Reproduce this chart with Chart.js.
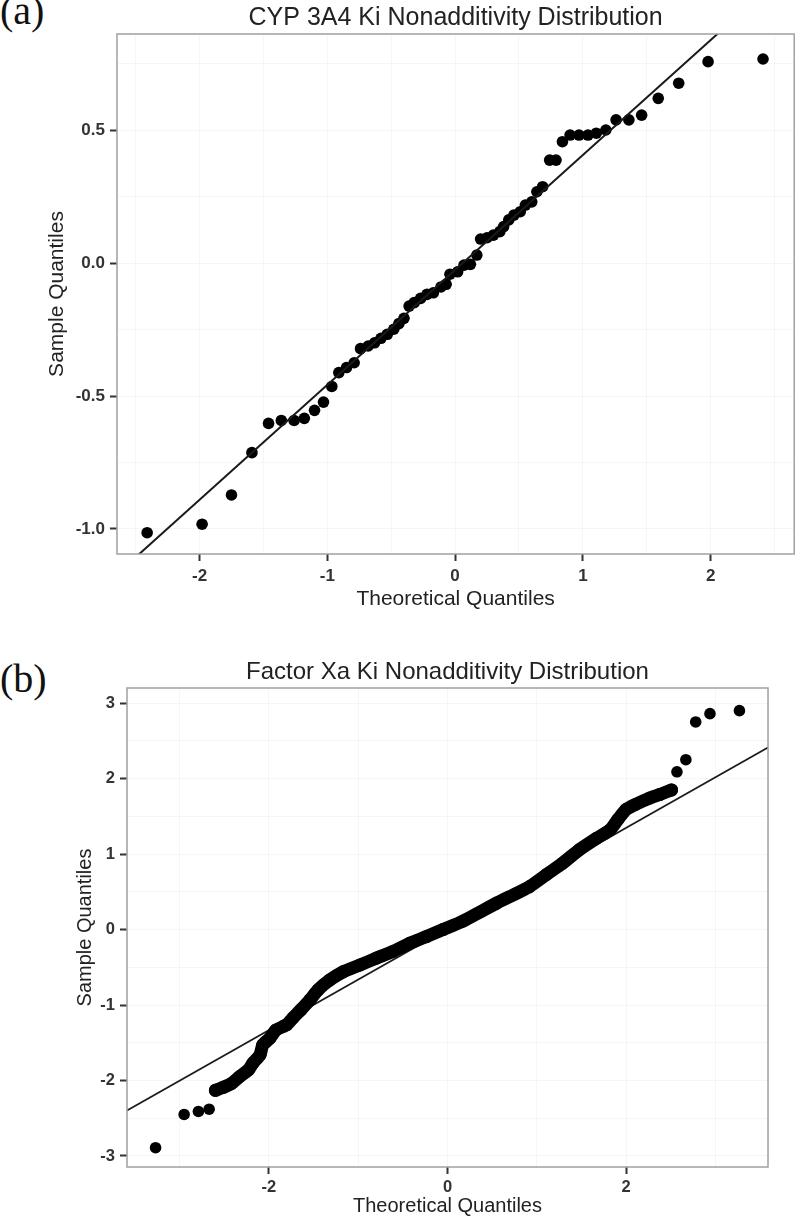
<!DOCTYPE html>
<html><head><meta charset="utf-8">
<script src="https://cdn.jsdelivr.net/npm/chart.js@4.4.1/dist/chart.umd.min.js"></script>
<style>
html,body{margin:0;padding:0;background:#fff;width:800px;height:1218px;overflow:hidden}
.panel{position:absolute;left:0;width:800px}
#p1{top:0;height:615px}
#p2{top:615px;height:603px}
.lab{position:absolute;left:0px;font-family:"Liberation Serif","DejaVu Serif",serif;font-size:40px;color:#111;line-height:1}
</style></head><body>
<div class="lab" style="top:-9px">(a)</div>
<div class="lab" style="top:659px">(b)</div>
<div class="panel" id="p1"><canvas id="c1"></canvas></div>
<div class="panel" id="p2"><canvas id="c2"></canvas></div>
<script>
// ---- Panel (a): CYP 3A4 ----
const cypTheoretical = [-2.41,-1.98,-1.75,-1.59,-1.46,-1.36,-1.26,-1.18,-1.10,-1.03,-0.965,-0.91,-0.85,-0.79,-0.74,-0.68,-0.63,-0.58,-0.53,-0.48,-0.44,-0.40,-0.36,-0.32,-0.27,-0.22,-0.17,-0.11,-0.07,-0.04,0.02,0.07,0.12,0.17,0.20,0.25,0.30,0.35,0.38,0.42,0.46,0.51,0.55,0.60,0.64,0.685,0.74,0.79,0.84,0.90,0.97,1.04,1.105,1.18,1.26,1.36,1.46,1.59,1.75,1.98,2.41];
const cypSample = [-1.014,-0.982,-0.872,-0.713,-0.603,-0.592,-0.592,-0.584,-0.554,-0.523,-0.464,-0.412,-0.393,-0.375,-0.322,-0.312,-0.30,-0.283,-0.268,-0.249,-0.228,-0.208,-0.162,-0.149,-0.133,-0.118,-0.112,-0.09,-0.08,-0.042,-0.033,-0.008,-0.005,0.03,0.09,0.095,0.105,0.118,0.137,0.162,0.18,0.193,0.218,0.23,0.268,0.287,0.387,0.387,0.456,0.481,0.481,0.481,0.488,0.50,0.538,0.538,0.556,0.619,0.676,0.757,0.767];
const cypLineX = [-2.65, 2.65];
const cypLineY = [-1.171, 1.119];
const cypXTicks = [-2,-1,0,1,2];
const cypYTicks = [-1.0,-0.5,0.0,0.5];

// ---- Panel (b): Factor Xa ----
const fxaLowX = [-3.27,-2.95,-2.79,-2.67];
const fxaLowY = [-2.89,-2.45,-2.41,-2.38];
const fxaBandX = [-2.60,-2.51,-2.42,-2.33,-2.23,-2.18,-2.10,-2.07,-1.99,-1.92,-1.80,-1.73,-1.64,-1.54,-1.45,-1.32,-1.17,-0.98,-0.80,-0.61,-0.42,-0.235,-0.05,0.17,0.55,0.92,1.11,1.29,1.48,1.67,1.82,1.91,2.00,2.11,2.26,2.38,2.51];
const fxaBandY = [-2.13,-2.09,-2.04,-1.95,-1.86,-1.77,-1.66,-1.53,-1.44,-1.33,-1.26,-1.17,-1.06,-0.93,-0.80,-0.67,-0.56,-0.47,-0.38,-0.29,-0.18,-0.093,0.0,0.11,0.35,0.57,0.73,0.88,1.06,1.21,1.32,1.46,1.59,1.66,1.74,1.79,1.85];
const fxaHighX = [2.57,2.67,2.78,2.94,3.27];
const fxaHighY = [2.09,2.25,2.75,2.86,2.90];
const fxaLineX = [-3.59, 3.59];
const fxaLineY = [-2.398, 2.412];
const fxaXTicks = [-2,0,2];
const fxaYTicks = [-3,-2,-1,0,1,2,3];

const FF = '"Liberation Sans", Arial, sans-serif';
const pts = (xs, ys) => xs.map((x, i) => ({x, y: ys[i]}));
const isIn = (arr, v) => arr.some(t => Math.abs(t - v) < 1e-6);

const framePlugin = {
  id: 'frameTitle',
  afterDraw(chart, args, o) {
    const {ctx, chartArea: a} = chart;
    ctx.save();
    ctx.strokeStyle = '#a0a0a0';
    ctx.lineWidth = 1.5;
    ctx.strokeRect(a.left, a.top, a.right - a.left, a.bottom - a.top);
    ctx.fillStyle = '#222';
    ctx.font = o.size + 'px ' + FF;
    ctx.textAlign = 'center';
    ctx.textBaseline = 'middle';
    ctx.fillText(o.text, (a.left + a.right) / 2, o.y);
    ctx.restore();
  }
};

function axis(o) {
  return {
    type: 'linear', min: o.min, max: o.max,
    afterFit: s => { if (o.w) s.width = o.w; if (o.h) s.height = o.h; },
    ticks: {
      stepSize: o.step, includeBounds: false, autoSkip: false, maxRotation: 0,
      padding: o.pad, color: '#333', font: {family: FF, size: o.tick, weight: 'bold'},
      callback: v => isIn(o.major, v) ? o.fmt(v) : ''
    },
    grid: {
      color: 'rgba(0,0,0,0.035)', lineWidth: 1,
      drawTicks: true, tickLength: 7, tickWidth: 2,
      tickColor: c => (c.tick && isIn(o.major, c.tick.value)) ? '#333' : 'rgba(0,0,0,0)'
    },
    border: {display: false},
    title: {display: true, text: o.title, color: '#222', font: {family: FF, size: o.tsize}, padding: o.tpad}
  };
}

Chart.defaults.animation = false;

new Chart(document.getElementById('c1'), {
  type: 'scatter',
  data: {datasets: [
    {data: pts(cypLineX, cypLineY), showLine: true, borderColor: '#1a1a1a', borderWidth: 2, pointRadius: 0, order: 0},
    {data: pts(cypTheoretical, cypSample), backgroundColor: '#000', borderColor: '#000', pointRadius: 5.8, borderWidth: 0, order: 1}
  ]},
  options: {
    responsive: true, maintainAspectRatio: false,
    layout: {padding: {left: 0, top: 34, right: 2, bottom: 0}},
    plugins: {legend: {display: false}, tooltip: {enabled: false}, frameTitle: {text: 'CYP 3A4 Ki Nonadditivity Distribution', y: 18, size: 25}},
    scales: {
      x: axis({min: -2.646, max: 2.654, step: 0.5, major: cypXTicks, fmt: v => String(v), h: 61, pad: 5, tick: 17,
        title: 'Theoretical Quantiles', tsize: 21, tpad: {top: 0, bottom: 3}}),
      y: axis({min: -1.094, max: 0.861, step: 0.25, major: cypYTicks, fmt: v => v.toFixed(1), w: 117, pad: 5, tick: 17,
        title: 'Sample Quantiles', tsize: 21, tpad: {top: 45, bottom: 0}})
    }
  },
  plugins: [framePlugin]
});

new Chart(document.getElementById('c2'), {
  type: 'scatter',
  data: {datasets: [
    {data: pts(fxaLineX, fxaLineY), showLine: true, borderColor: '#1a1a1a', borderWidth: 1.8, pointRadius: 0, order: 2},
    {data: pts(fxaBandX, fxaBandY), showLine: true, borderColor: '#000', borderWidth: 13, borderCapStyle: 'round', borderJoinStyle: 'round',
      tension: 0.2, backgroundColor: '#000', pointRadius: 6.5, pointBorderWidth: 0, order: 1},
    {data: pts(fxaLowX, fxaLowY), backgroundColor: '#000', pointRadius: 5.8, borderWidth: 0, order: 1},
    {data: pts(fxaHighX, fxaHighY), backgroundColor: '#000', pointRadius: 5.8, borderWidth: 0, order: 1}
  ]},
  options: {
    responsive: true, maintainAspectRatio: false,
    layout: {padding: {left: 0, top: 73, right: 32, bottom: 0}},
    plugins: {legend: {display: false}, tooltip: {enabled: false}, frameTitle: {text: 'Factor Xa Ki Nonadditivity Distribution', y: 57, size: 24}},
    scales: {
      x: axis({min: -3.59, max: 3.59, step: 1, major: fxaXTicks, fmt: v => String(v), h: 51, pad: 4, tick: 16.5,
        title: 'Theoretical Quantiles', tsize: 20, tpad: {top: 0, bottom: 0}}),
      y: axis({min: -3.146, max: 3.2, step: 0.5, major: fxaYTicks, fmt: v => String(v), w: 127, pad: 5, tick: 16.5,
        title: 'Sample Quantiles', tsize: 20, tpad: {top: 73, bottom: 0}})
    }
  },
  plugins: [framePlugin]
});
</script>
</body></html>
